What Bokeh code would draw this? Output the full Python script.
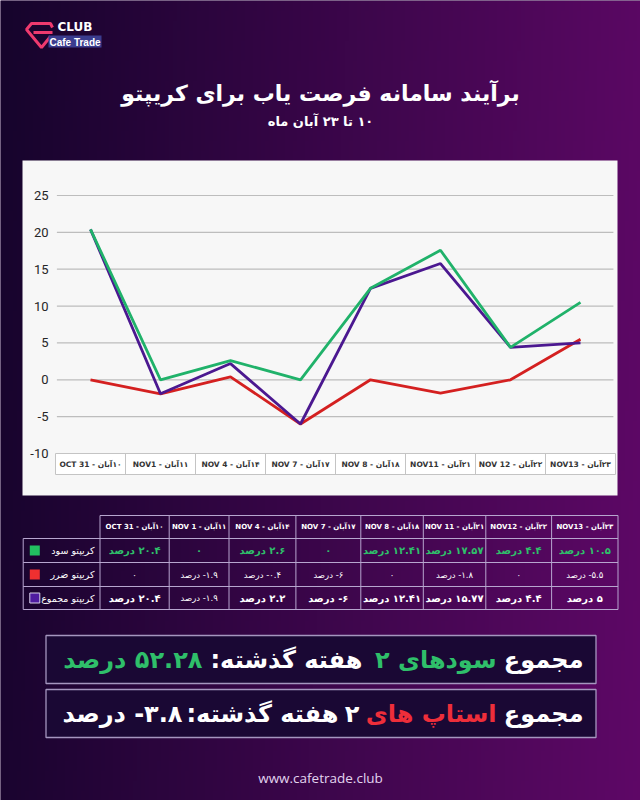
import numpy as np
from bokeh.plotting import figure
from bokeh.models import Range1d, ColumnDataSource
from bokeh.core.properties import value
from bokeh.embed import file_html
from bokeh.resources import INLINE

RLM = "\u200f"

# ---------------- data ----------------
dates_en = ["OCT 31", "NOV1", "NOV 4", "NOV 7", "NOV 8", "NOV11", "NOV 12", "NOV13"]
dates_en_tbl = ["OCT 31", "NOV 1", "NOV 4", "NOV 7", "NOV 8", "NOV 11", "NOV12", "NOV13"]
dates_fa = ["۱۰آبان", "۱۱آبان", "۱۴آبان", "۱۷آبان", "۱۸آبان", "۲۱آبان", "۲۲آبان", "۲۳آبان"]

profit = [20.4, 0, 2.6, 0, 12.41, 17.57, 4.4, 10.5]
loss = [0, -1.9, 0.4, -6, 0, -1.8, 0, 5.5]
total = [20.4, -1.9, 2.2, -6, 12.41, 15.77, 4.4, 5]

y_ticks = [25, 20, 15, 10, 5, 0, -5, -10]

row_profit = ["۲۰.۴ درصد", "۰", "۲.۶ درصد", "۰", "۱۲.۴۱ درصد", "۱۷.۵۷ درصد", "۴.۴ درصد", "۱۰.۵ درصد"]
row_loss = ["۰", "۱.۹- درصد", "۰.۴- درصد", "۶- درصد", "۰", "۱.۸- درصد", "۰", "۵.۵- درصد"]
row_total = ["۲۰.۴ درصد", "۱.۹- درصد", "۲.۲ درصد", "۶- درصد", "۱۲.۴۱ درصد", "۱۵.۷۷ درصد", "۴.۴ درصد", "۵ درصد"]

series_names = ["کریپتو سود", "کریپتو ضرر", "کریپتو مجموع"]

title = "برآیند سامانه فرصت یاب برای کریپتو"
subtitle = "۱۰ تا ۲۳ آبان ماه"
footer = "www.cafetrade.club"

# ---------------- styles ----------------
W, H = 640, 800
FA = "DejaVu Sans"
GREEN, RED, PURPLE = "#20b26a", "#d42020", "#4b1890"
TGREEN = "#2fbf6a"


def rtl(s):
    return RLM + s


# chart mapping (layout): category 0 centre at 90px, 70px per category;
# value 25 at 195px, value -10 at 453px
px_per_unit = (453 - 195) / 35.0
x_rng = Range1d(-90 / 70.0, (W - 90) / 70.0)
y_rng = Range1d(25 - (H - 195) / px_per_unit, 25 + 195 / px_per_unit)

p = figure(width=W, height=H, x_range=x_rng, y_range=y_rng,
           output_backend="svg", toolbar_location=None, min_border=0)
p.extra_x_ranges = {"px": Range1d(0, W)}
p.extra_y_ranges = {"px": Range1d(H, 0), "pxu": Range1d(0, H)}
p.axis.visible = False
p.grid.visible = False
p.outline_line_color = None
p.background_fill_color = "#2a0640"
p.border_fill_color = "#2a0640"

# ---------------- background gradient ----------------
cols, rows = 160, 80
tx = np.linspace(0, 1, cols)[None, :]
ty = np.linspace(0, 1, rows)[:, None]          # 0 = bottom, 1 = top
left = np.array([22, 4, 44]); right = np.array([96, 8, 104])
t = np.clip(0.92 * tx + 0.06 * (1 - ty), 0, 1)
img = np.empty((rows, cols), dtype=np.uint32)
view = img.view(dtype=np.uint8).reshape((rows, cols, 4))
for k in range(3):
    view[:, :, k] = (left[k] + (right[k] - left[k]) * t).astype(np.uint8)
view[:, :, 3] = 255
p.image_rgba(image=[img], x=0, y=0, dw=W, dh=H, x_range_name="px", y_range_name="pxu")

# ---------------- logo ----------------
p.multi_line(xs=[[52, 50, 31, 26, 41, 50], [33, 52]], ys=[[27, 23, 23, 29, 47, 36], [32, 32]],
             line_color="#ee3a6e", line_width=3, x_range_name="px", y_range_name="px")
p.text(x=[57], y=[26], text=["CLUB"], text_font=value("DejaVu Sans"), text_font_style="bold",
       text_font_size="12px", text_color="white", text_baseline="middle",
       x_range_name="px", y_range_name="px")
p.quad(left=[48], right=[101], top=[35], bottom=[47], fill_color="#3b3c8e", line_color=None,
       x_range_name="px", y_range_name="px")
p.text(x=[74.5], y=[41.5], text=["Cafe Trade"], text_font=value("Liberation Sans"),
       text_font_style="bold", text_font_size="10px", text_color="white",
       text_align="center", text_baseline="middle", x_range_name="px", y_range_name="px")

# ---------------- titles ----------------
p.text(x=[320], y=[93], text=[title], text_font=value(FA), text_font_style="bold",
       text_font_size="22px", text_color="white", text_align="center", text_baseline="middle",
       x_range_name="px", y_range_name="px")
p.text(x=[320], y=[121], text=[rtl(subtitle)], text_font=value(FA), text_font_style="bold",
       text_font_size="13px", text_color="white", text_align="center", text_baseline="middle",
       x_range_name="px", y_range_name="px")

# ---------------- chart panel ----------------
p.quad(left=[22], right=[617], top=[160], bottom=[495], fill_color="#f7f7f7", line_color=None,
       x_range_name="px", y_range_name="px")
grid_vals = [v for v in y_ticks if v != -10]
p.segment(x0=[-0.48] * len(grid_vals), x1=[7.47] * len(grid_vals), y0=grid_vals, y1=grid_vals,
          line_color="#bdbdbd", line_width=1.2)
p.text(x=[48] * len(y_ticks), y=y_ticks, text=[str(v) for v in y_ticks],
       text_font=value("Roboto"), text_font_size="13px", text_color="#262626",
       text_align="right", text_baseline="middle", x_range_name="px")

idx = list(range(len(dates_en)))
p.quad(left=[-0.5], right=[7.5], top=[453], bottom=[474], fill_color="white",
       line_color="#c4c4c4", line_width=1, y_range_name="px")
seps = [i + 0.5 for i in idx[:-1]]
p.segment(x0=seps, x1=seps, y0=[453] * len(seps), y1=[474] * len(seps),
          line_color="#c4c4c4", line_width=1, y_range_name="px")
p.text(x=idx, y=[463.5] * len(idx), text=[f"{e} - {rtl(f)}" for e, f in zip(dates_en, dates_fa)],
       text_font=value(FA), text_font_style="bold", text_font_size="7.5px", text_color="#333333",
       text_align="center", text_baseline="middle", y_range_name="px")

src = ColumnDataSource(dict(x=idx, profit=profit, loss=loss, total=total))
p.line("x", "loss", source=src, line_color=RED, line_width=2.8)
p.line("x", "total", source=src, line_color=PURPLE, line_width=2.8)
p.line("x", "profit", source=src, line_color=GREEN, line_width=2.8)

# ---------------- table ----------------
cx = [22.7, 99.5, 168.7, 228.5, 295.4, 360.3, 422.8, 485.3, 551.1, 617.5]
ry = [515, 538, 562, 586, 609]
LC = "#b7a6cf"
hx0 = [cx[1]] + [cx[0]] * 4
hx1 = [cx[-1]] * 5
p.segment(x0=hx0, x1=hx1, y0=ry, y1=ry, line_color=LC, line_width=1,
          x_range_name="px", y_range_name="px")
vy0 = [ry[1]] + [ry[0]] * (len(cx) - 1)
p.segment(x0=cx, x1=cx, y0=vy0, y1=[ry[-1]] * len(cx), line_color=LC, line_width=1,
          x_range_name="px", y_range_name="px")

ccx = [(cx[i] + cx[i + 1]) / 2 for i in range(1, len(cx) - 1)]
ryc = [(ry[i] + ry[i + 1]) / 2 for i in range(len(ry) - 1)]
p.text(x=ccx, y=[ryc[0]] * 8, text=[f"{e} - {rtl(f)}" for e, f in zip(dates_en_tbl, dates_fa)],
       text_font=value(FA), text_font_style="bold", text_font_size="7px", text_color="white",
       text_align="center", text_baseline="middle", x_range_name="px", y_range_name="px")
p.text(x=ccx, y=[ryc[1]] * 8, text=[rtl(s) for s in row_profit], text_font=value(FA),
       text_font_style="bold", text_font_size="10px", text_color=TGREEN, text_align="center",
       text_baseline="middle", x_range_name="px", y_range_name="px")
p.text(x=ccx, y=[ryc[2]] * 8, text=[rtl(s) for s in row_loss], text_font=value(FA),
       text_font_size="8.5px", text_color="white", text_align="center", text_baseline="middle",
       x_range_name="px", y_range_name="px")
tot_sizes = ["10px", "8.5px", "10px", "10px", "10px", "10px", "10px", "10px"]
tot_styles = ["bold", "normal", "bold", "bold", "bold", "bold", "bold", "bold"]
tsrc = ColumnDataSource(dict(x=ccx, y=[ryc[3]] * 8, t=[rtl(s) for s in row_total],
                             s=tot_sizes, st=tot_styles))
p.text(x="x", y="y", text="t", source=tsrc, text_font=value(FA), text_font_style="st",
       text_font_size="s", text_color="white", text_align="center", text_baseline="middle",
       x_range_name="px", y_range_name="px")

p.scatter(x=[34.3] * 3, y=ryc[1:], marker="square", size=10,
          fill_color=["#22c060", "#ef3030", "#4f1ca0"], line_color=[None, None, "#d8d0e8"],
          line_width=1, x_range_name="px", y_range_name="px")
p.text(x=[94] * 3, y=ryc[1:], text=series_names, text_font=value(FA), text_font_size="9.5px",
       text_color="white", text_align="right", text_baseline="middle",
       x_range_name="px", y_range_name="px")

# ---------------- summary boxes ----------------
p.quad(left=[45.5, 45.5], right=[595.5, 595.5], top=[635, 689], bottom=[683, 737],
       fill_color="#1a0834", line_color="#a596bf", line_width=1.3,
       x_range_name="px", y_range_name="px")

seg_text = [rtl("مجموع"), rtl("سودهای ۲"), rtl("هفته گذشته:") + RLM, rtl("۵۲.۲۸ درصد"),
            rtl("مجموع"), rtl("استاپ های"), rtl("۲"), rtl("هفته گذشته:") + RLM, rtl("۳.۸- درصد")]
seg_right = [583, 496, 362, 202, 583, 496, 359, 338, 182]
seg_y = [659] * 4 + [713] * 5
seg_col = ["white", TGREEN, "white", TGREEN, "white", "#ee2e3a", "white", "white", "white"]
ssrc = ColumnDataSource(dict(x=seg_right, y=seg_y, t=seg_text, c=seg_col))
p.text(x="x", y="y", text="t", text_color="c", source=ssrc, text_font=value(FA),
       text_font_style="bold", text_font_size="24px", text_align="right",
       text_baseline="middle", x_range_name="px", y_range_name="px")

# ---------------- footer ----------------
p.text(x=[320], y=[777], text=[footer], text_font=value("Open Sans"), text_font_size="13.5px",
       text_color="#e2d4ef", text_align="center", text_baseline="middle",
       x_range_name="px", y_range_name="px")

open("out.html", "w").write(file_html(p, INLINE))
